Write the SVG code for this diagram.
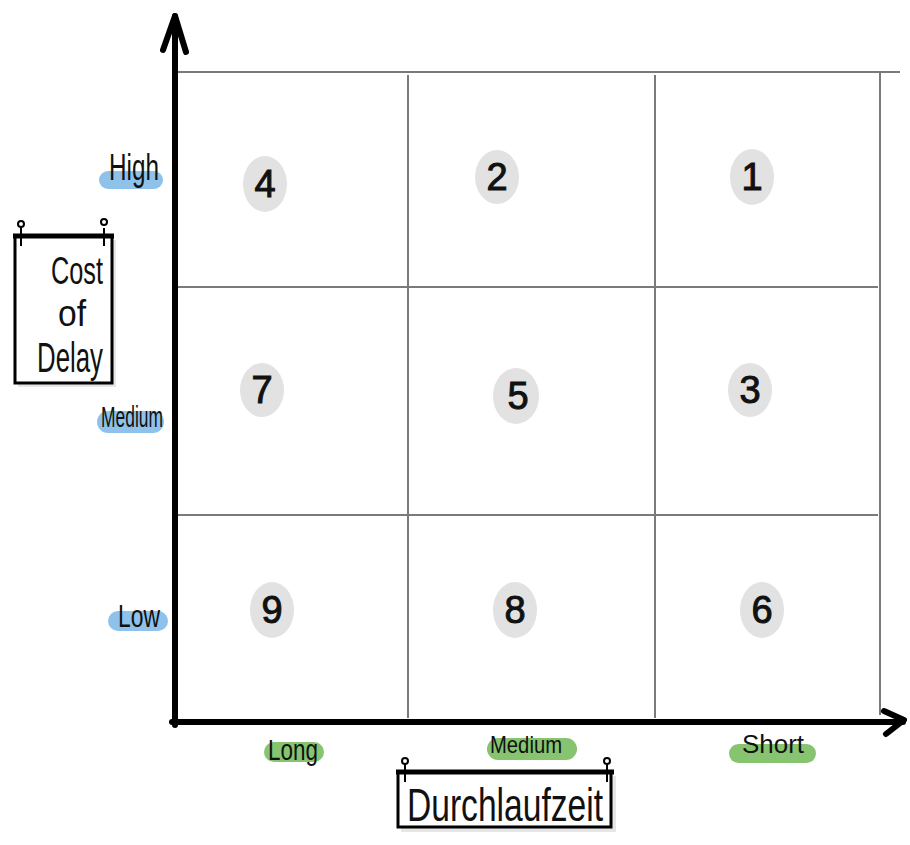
<svg xmlns="http://www.w3.org/2000/svg" width="910" height="845" viewBox="0 0 910 845">
<style>
.grid{stroke:#7a7a7a;stroke-width:2;fill:none}
.axis{stroke:#000;stroke-width:6;fill:none;stroke-linecap:round;stroke-linejoin:round}
.blob{fill:#e2e2e2}
.num{font-family:"Liberation Sans",Arial,sans-serif;font-size:38px;fill:#111;stroke:#111;stroke-width:1;text-anchor:middle}
.lbl{font-family:"Liberation Sans",Arial,sans-serif;fill:#111;text-anchor:middle}
.hlb{fill:#8fc2ea}
.hlg{fill:#86c46f}
.sign{stroke:#000;stroke-width:3;fill:#fff}
.bar{stroke:#000;stroke-width:5}
.pin{stroke:#000;stroke-width:2;fill:#fff}
.stext{font-family:"Liberation Sans",Arial,sans-serif;fill:#111;text-anchor:middle}
</style>
<rect width="910" height="845" fill="#fff"/>
<g id="grid">
<line class="grid" x1="175" y1="72" x2="900" y2="72"/>
<line class="grid" x1="880" y1="72" x2="880" y2="715"/>
<line class="grid" x1="408" y1="75" x2="408" y2="718"/>
<line class="grid" x1="655" y1="75" x2="655" y2="718"/>
<line class="grid" x1="175" y1="287" x2="878" y2="287"/>
<line class="grid" x1="175" y1="515" x2="878" y2="515"/>
</g>
<g id="axes">
<path class="axis" d="M175 725 L175 16"/>
<path class="axis" d="M163 50 L175 16 L186 52"/>
<path class="axis" d="M172 722 L903 722"/>
<path class="axis" d="M884 711 L904 720 L886 734"/>
</g>
<g id="cells">
<g id="c4"><ellipse class="blob" cx="265" cy="184" rx="22" ry="28"/><text class="num" x="265" y="197">4</text></g>
<g id="c2"><ellipse class="blob" cx="497" cy="177" rx="22" ry="27"/><text class="num" x="497" y="190">2</text></g>
<g id="c1"><ellipse class="blob" cx="752" cy="177" rx="22" ry="28"/><text class="num" x="752" y="190">1</text></g>
<g id="c7"><ellipse class="blob" cx="262" cy="390" rx="22" ry="27"/><text class="num" x="262" y="403">7</text></g>
<g id="c5"><ellipse class="blob" cx="516" cy="396" rx="23" ry="28"/><text class="num" x="518" y="409">5</text></g>
<g id="c3"><ellipse class="blob" cx="750" cy="390" rx="22" ry="27"/><text class="num" x="750" y="403">3</text></g>
<g id="c9"><ellipse class="blob" cx="272" cy="610" rx="22" ry="28"/><text class="num" x="272" y="623">9</text></g>
<g id="c8"><ellipse class="blob" cx="515" cy="610" rx="22" ry="28"/><text class="num" x="515" y="623">8</text></g>
<g id="c6"><ellipse class="blob" cx="762" cy="610" rx="22" ry="28"/><text class="num" x="762" y="623">6</text></g>
</g>
<g id="ylabels">
<g id="y-high"><rect class="hlb" x="99" y="171" width="64" height="18" rx="9"/><text class="lbl" x="134" y="180" font-size="36" textLength="50" lengthAdjust="spacingAndGlyphs">High</text></g>
<g id="y-medium"><rect class="hlb" x="97" y="411" width="67" height="22" rx="11"/><text class="lbl" x="132" y="427" font-size="30" textLength="62" lengthAdjust="spacingAndGlyphs">Medium</text></g>
<g id="y-low"><rect class="hlb" x="108" y="611" width="60" height="20" rx="10"/><text class="lbl" x="139" y="627" font-size="32" textLength="42" lengthAdjust="spacingAndGlyphs">Low</text></g>
</g>
<g id="xlabels">
<g id="x-long"><rect class="hlg" x="264" y="742" width="60" height="20" rx="10"/><text class="lbl" x="293" y="760" font-size="30" textLength="50" lengthAdjust="spacingAndGlyphs">Long</text></g>
<g id="x-medium"><rect class="hlg" x="487" y="738" width="90" height="22" rx="11"/><text class="lbl" x="526" y="753" font-size="24" textLength="72" lengthAdjust="spacingAndGlyphs">Medium</text></g>
<g id="x-short"><rect class="hlg" x="729" y="744" width="87" height="19" rx="9.5"/><text class="lbl" x="773" y="753" font-size="26" textLength="62" lengthAdjust="spacingAndGlyphs">Short</text></g>
</g>
<g id="cost-of-delay">
<rect x="18" y="240" width="98" height="147" fill="#e6e6e6"/>
<rect class="sign" x="15" y="236" width="97" height="147"/>
<line class="bar" x1="13" y1="236" x2="114" y2="236"/>
<line class="pin" x1="21" y1="228" x2="21" y2="246"/><circle class="pin" cx="21" cy="224" r="3"/>
<line class="pin" x1="104" y1="228" x2="104" y2="246"/><circle class="pin" cx="104" cy="222" r="3"/>
<text class="stext" x="77" y="284" font-size="38" textLength="52" lengthAdjust="spacingAndGlyphs">Cost</text>
<text class="stext" x="72" y="326" font-size="36" textLength="28" lengthAdjust="spacingAndGlyphs">of</text>
<text class="stext" x="70" y="372" font-size="42" textLength="66" lengthAdjust="spacingAndGlyphs">Delay</text>
</g>
<g id="durchlaufzeit">
<rect x="401" y="776" width="215" height="56" fill="#e6e6e6"/>
<rect class="sign" x="398" y="772" width="213" height="55"/>
<line class="bar" x1="396" y1="772" x2="614" y2="772"/>
<line class="pin" x1="405" y1="764" x2="405" y2="782"/><circle class="pin" cx="405" cy="761" r="3"/>
<line class="pin" x1="607" y1="764" x2="607" y2="782"/><circle class="pin" cx="607" cy="761" r="3"/>
<text class="stext" x="505" y="821" font-size="46" textLength="196" lengthAdjust="spacingAndGlyphs">Durchlaufzeit</text>
</g>
</svg>
